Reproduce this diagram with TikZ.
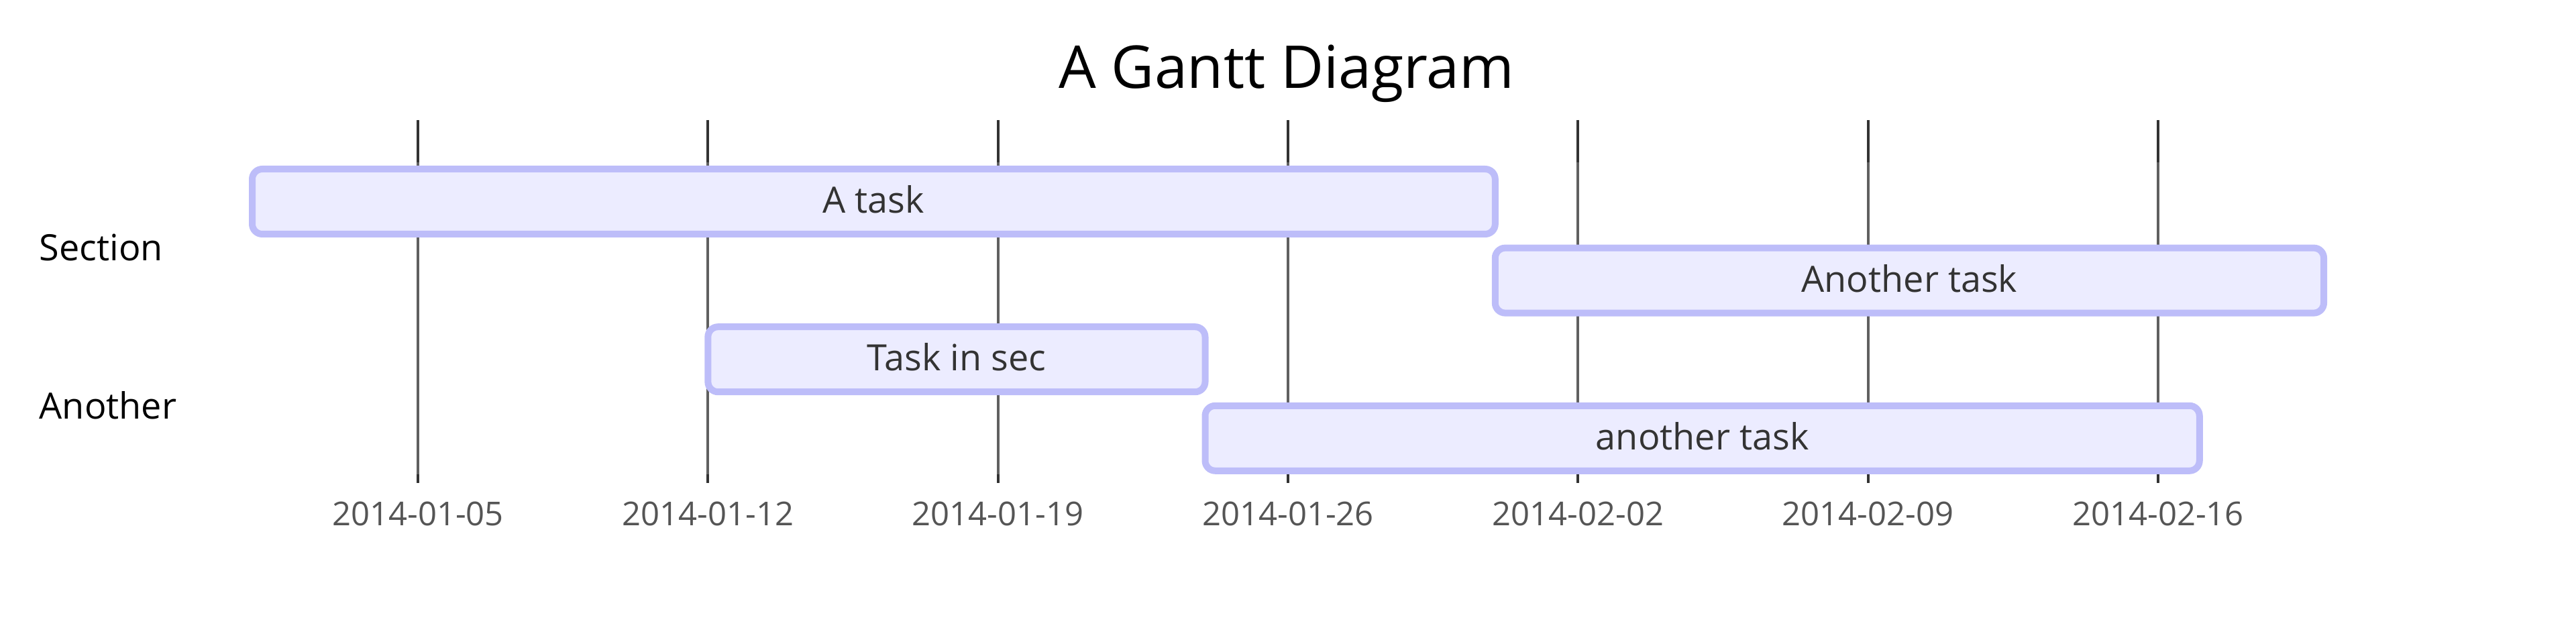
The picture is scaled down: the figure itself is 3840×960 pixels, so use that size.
\documentclass[tikz,border=0pt]{standalone}
\usepackage{fontspec}
\setmainfont{Open Sans}
\definecolor{taskfill}{HTML}{ECECFF}
\definecolor{taskline}{RGB}{189,189,249}
\definecolor{gridline}{HTML}{606060}
\definecolor{griddark}{HTML}{333333}
\definecolor{tasktext}{HTML}{333333}
\definecolor{datetext}{HTML}{555555}

\begin{document}
\begin{tikzpicture}
  [x=0.25pt,y=-0.25pt,
   task/.style={rectangle,rounded corners=3.75pt,draw=taskline,line width=2.5pt,fill=taskfill,
     minimum height=24.25pt,inner sep=0pt,text height=8.5pt,text depth=0pt,text=tasktext,
     font=\fontsize{13.5}{16}\selectfont},
   section/.style={anchor=base west,inner sep=0pt,font=\fontsize{13.5}{16}\selectfont},
   datelabel/.style={anchor=base,inner sep=0pt,text=datetext,font=\fontsize{12.25}{15}\selectfont}]
  \useasboundingbox (0,0) rectangle (3840,960);
  \node[anchor=base,inner sep=0pt,font=\fontsize{22}{26}\selectfont] (title) at (1918,132) {A Gantt Diagram};

\foreach \off/\lbl [count=\i] in
{4/2014-01-05, 11/2014-01-12, 18/2014-01-19, 25/2014-01-26, 32/2014-02-02, 39/2014-02-09, 46/2014-02-16}
  {
    \draw[gridline,line width=1pt] ({376+\off*61.76},179) -- ({376+\off*61.76},720);
    \draw[griddark,line width=1pt] ({376+\off*61.76},179) -- ({376+\off*61.76},242);
    \draw[griddark,line width=1pt] ({376+\off*61.76},707) -- ({376+\off*61.76},720);
    \node[datelabel] (date\i) at ({376+\off*61.76},784) {\lbl};
  }

  \node[section] (secA) at (58,389) {Section};
  \node[section] (secB) at (58,625) {Another};

\foreach \s/\e/\r/\lbl/\nm in
{0/30/0/A task/taskA, 30/50/1/Another task/taskB, 11/23/2/Task in sec/taskC, 23/47/3/another task/taskD}
    \node[task,minimum width={(\e-\s)*15.44pt}] (\nm) at ({376+(\s+\e)*30.88},{300.5+\r*117.6}) {\lbl};
\end{tikzpicture}
\end{document}
